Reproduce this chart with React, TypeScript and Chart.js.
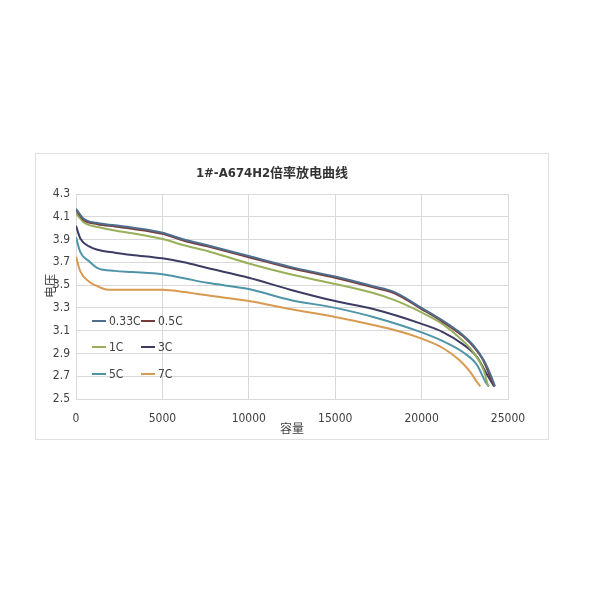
import React, { useEffect, useRef } from 'react';
import { Chart, registerables } from 'chart.js';

Chart.register(...registerables);

const TITLE = '1#-A674H2倍率放电曲线';
const X_TITLE = '容量';
const Y_TITLE = '电压';

const seriesLabels = ['0.33C', '0.5C', '1C', '3C', '5C', '7C'];
const seriesColors = ['#4e6e8e', '#7a3b3b', '#98b05a', '#3c3c64', '#4f94a8', '#d89a50'];

// capacity (x) and voltage (y) for each rate
const cap033 = [0, 460, 1250, 2250, 3250, 5000, 6250, 7600, 10000, 12400, 15000, 17200, 18400, 20000, 21200, 22400, 23000, 23600, 24000, 24250];
const volt033 = [4.17, 4.08, 4.045, 4.025, 4.005, 3.96, 3.9, 3.85, 3.755, 3.66, 3.575, 3.49, 3.44, 3.3, 3.19, 3.06, 2.97, 2.84, 2.71, 2.61];

const cap05 = [0, 460, 1250, 2250, 3250, 5000, 6250, 7600, 10000, 12400, 15000, 17200, 18400, 20000, 21200, 22400, 23000, 23600, 23950, 24200];
const volt05 = [4.16, 4.07, 4.035, 4.015, 3.995, 3.95, 3.89, 3.84, 3.745, 3.65, 3.565, 3.48, 3.43, 3.29, 3.18, 3.05, 2.96, 2.83, 2.7, 2.61];

const cap1 = [0, 460, 1250, 2250, 3250, 5000, 6250, 7600, 10000, 12400, 15000, 17200, 18400, 20000, 21200, 22400, 23000, 23600, 23850];
const volt1 = [4.13, 4.05, 4.01, 3.98, 3.955, 3.905, 3.85, 3.8, 3.69, 3.595, 3.51, 3.43, 3.37, 3.26, 3.16, 3.01, 2.91, 2.75, 2.61];

const cap3 = [0, 250, 760, 1250, 2250, 3250, 5000, 6250, 7600, 10000, 12400, 15000, 17200, 20000, 21200, 22400, 23200, 23800, 24200];
const volt3 = [4.02, 3.91, 3.84, 3.81, 3.785, 3.765, 3.735, 3.7, 3.65, 3.565, 3.46, 3.36, 3.29, 3.16, 3.09, 2.98, 2.87, 2.71, 2.61];

const cap5 = [0, 250, 760, 1250, 2250, 3250, 5000, 6250, 7600, 10000, 12400, 15000, 17200, 20000, 21200, 22400, 23200, 23700, 23900];
const volt5 = [3.92, 3.79, 3.71, 3.65, 3.625, 3.615, 3.595, 3.56, 3.52, 3.465, 3.37, 3.3, 3.22, 3.085, 3.01, 2.91, 2.8, 2.65, 2.61];

const cap7 = [0, 250, 760, 1250, 1850, 3250, 5000, 6250, 7600, 10000, 12400, 15000, 17200, 18800, 20000, 21200, 22200, 22800, 23200, 23400];
const volt7 = [3.75, 3.62, 3.53, 3.49, 3.46, 3.46, 3.46, 3.44, 3.41, 3.36, 3.29, 3.22, 3.15, 3.09, 3.03, 2.95, 2.84, 2.74, 2.65, 2.61];

const seriesCaps = [cap033, cap05, cap1, cap3, cap5, cap7];
const seriesVolts = [volt033, volt05, volt1, volt3, volt5, volt7];

const FONT = '"DejaVu Sans Condensed", "Liberation Sans Narrow", "Noto Sans CJK SC", sans-serif';
const TEXT_COLOR = '#404040';
const GRID_COLOR = '#d9d9d9';

// legend drawn inside the plot, lower left, two columns
const insideLegend = {
  id: 'insideLegend',
  afterDraw(chart: Chart) {
    const { ctx, chartArea } = chart;
    ctx.save();
    ctx.font = `12px ${FONT}`;
    ctx.textBaseline = 'middle';
    ctx.textAlign = 'left';
    const rows = [chartArea.bottom - 78, chartArea.bottom - 52, chartArea.bottom - 25];
    const cols = [chartArea.left + 16, chartArea.left + 65];
    chart.data.datasets.forEach((ds: any, i: number) => {
      const x = cols[i % 2];
      const y = rows[Math.floor(i / 2)];
      ctx.strokeStyle = ds.borderColor;
      ctx.lineWidth = 2;
      ctx.beginPath();
      ctx.moveTo(x, y);
      ctx.lineTo(x + 14, y);
      ctx.stroke();
      ctx.fillStyle = TEXT_COLOR;
      ctx.fillText(ds.label, x + 17, y + 1);
    });
    ctx.restore();
  },
};

// axis titles placed like the original
const axisTitles = {
  id: 'axisTitles',
  afterDraw(chart: Chart) {
    const { ctx, chartArea } = chart;
    ctx.save();
    ctx.font = `12px ${FONT}`;
    ctx.fillStyle = TEXT_COLOR;
    ctx.textAlign = 'center';
    ctx.textBaseline = 'middle';
    ctx.fillText(X_TITLE, (chartArea.left + chartArea.right) / 2, chartArea.bottom + 31);
    ctx.translate(chartArea.left - 24, chartArea.top + 92);
    ctx.rotate(-Math.PI / 2);
    ctx.fillText(Y_TITLE, 0, 0);
    ctx.restore();
  },
};

const RateChart: React.FC = () => {
  const canvasRef = useRef<HTMLCanvasElement>(null);
  const chartInstance = useRef<Chart | null>(null);

  useEffect(() => {
    if (!canvasRef.current) return;
    if (chartInstance.current) chartInstance.current.destroy();

    chartInstance.current = new Chart(canvasRef.current, {
      type: 'line',
      data: {
        datasets: seriesLabels.map((label, i) => ({
          label,
          data: seriesCaps[i].map((c, j) => ({ x: c, y: seriesVolts[i][j] })),
          borderColor: seriesColors[i],
          backgroundColor: seriesColors[i],
          borderWidth: 2,
          pointRadius: 0,
          cubicInterpolationMode: 'monotone' as const,
          fill: false,
        })),
      },
      options: {
        animation: false,
        responsive: true,
        maintainAspectRatio: false,
        layout: { padding: { left: 0, right: 40, top: 0, bottom: 0 } },
        plugins: {
          legend: { display: false },
          tooltip: { enabled: false },
          title: {
            display: true,
            text: TITLE,
            color: '#333333',
            font: { family: FONT, size: 13, weight: 'bold' },
            padding: { top: 12, bottom: 12.4 },
          },
        },
        scales: {
          x: {
            type: 'linear',
            min: 0,
            max: 25000,
            afterFit: (scale: any) => { scale.height = 40; },
            ticks: {
              stepSize: 5000,
              padding: 13,
              color: TEXT_COLOR,
              font: { family: FONT, size: 12 },
              maxRotation: 0,
              callback: (v: any) => String(v),
            },
            grid: { color: GRID_COLOR, drawTicks: false },
            border: { color: GRID_COLOR },
          },
          y: {
            min: 2.5,
            max: 4.3,
            afterFit: (scale: any) => { scale.width = 40; },
            ticks: {
              stepSize: 0.2,
              padding: 6,
              color: TEXT_COLOR,
              font: { family: FONT, size: 12 },
              callback: (v: any) => Number(v).toFixed(1),
            },
            grid: { color: GRID_COLOR, drawTicks: false },
            border: { color: GRID_COLOR },
          },
        },
      },
      plugins: [insideLegend, axisTitles],
    });

    return () => {
      if (chartInstance.current) {
        chartInstance.current.destroy();
        chartInstance.current = null;
      }
    };
  }, []);

  return (
    <div
      style={{
        position: 'absolute',
        left: '35px',
        top: '153px',
        width: '514px',
        height: '287px',
        border: '1px solid #e0e0e0',
        boxSizing: 'border-box',
        background: '#ffffff',
      }}
    >
      <canvas ref={canvasRef}></canvas>
    </div>
  );
};

export default function App() {
  return (
    <div style={{ position: 'absolute', left: 0, top: 0, width: '600px', height: '600px', background: '#ffffff' }}>
      <RateChart />
    </div>
  );
}
